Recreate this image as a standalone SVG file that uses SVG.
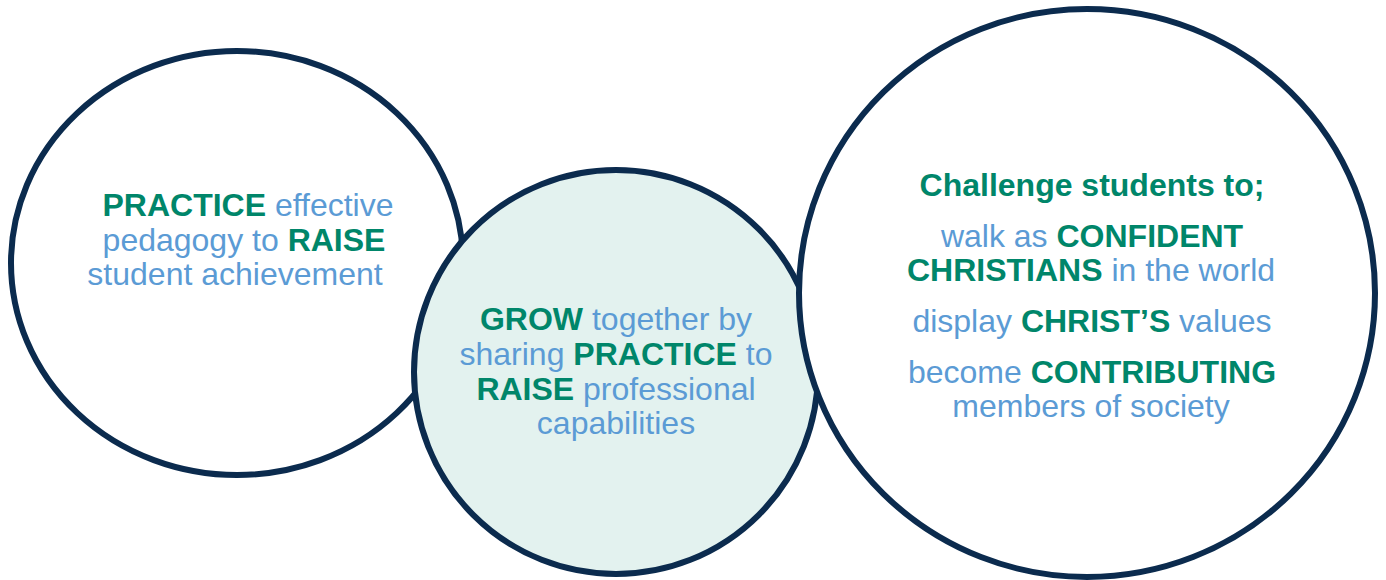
<svg xmlns="http://www.w3.org/2000/svg" width="1386" height="580" viewBox="0 0 1386 580">
  <style>
    .ring { stroke: #0B2B4E; stroke-width: 6; }
    .label { font-family: "Liberation Sans", Arial, sans-serif; font-size: 32px; fill: #5B9BD5; text-anchor: middle; }
    .key { font-weight: bold; fill: #00866A; }
  </style>
  <rect width="1386" height="580" fill="#FFFFFF"/>

  <!-- Teaching practice -->
  <g id="node-practice">
    <ellipse class="ring" cx="237" cy="263" rx="226" ry="212" fill="#FFFFFF"/>
    <text class="label" x="248" y="216"><tspan class="key">PRACTICE</tspan> effective</text>
    <text class="label" x="244" y="251">pedagogy to <tspan class="key">RAISE</tspan></text>
    <text class="label" x="235" y="285">student achievement</text>
  </g>

  <!-- Professional growth -->
  <g id="node-grow">
    <circle class="ring" cx="616" cy="372" r="202" fill="#E3F2EF"/>
    <text class="label" x="616" y="330"><tspan class="key">GROW</tspan> together by</text>
    <text class="label" x="616" y="365">sharing <tspan class="key">PRACTICE</tspan> to</text>
    <text class="label" x="616" y="400"><tspan class="key">RAISE</tspan> professional</text>
    <text class="label" x="616" y="434">capabilities</text>
  </g>

  <!-- Student challenge -->
  <g id="node-challenge">
    <ellipse class="ring" cx="1087" cy="293" rx="288" ry="284" fill="#FFFFFF"/>
    <text class="label key" x="1092" y="196">Challenge students to;</text>
    <text class="label" x="1092" y="247">walk as <tspan class="key">CONFIDENT</tspan></text>
    <text class="label" x="1091" y="281"><tspan class="key">CHRISTIANS</tspan> in the world</text>
    <text class="label" x="1092" y="332">display <tspan class="key">CHRIST’S</tspan> values</text>
    <text class="label" x="1092" y="383">become <tspan class="key">CONTRIBUTING</tspan></text>
    <text class="label" x="1091" y="417">members of society</text>
  </g>

  <g id="connectors"/>
</svg>
